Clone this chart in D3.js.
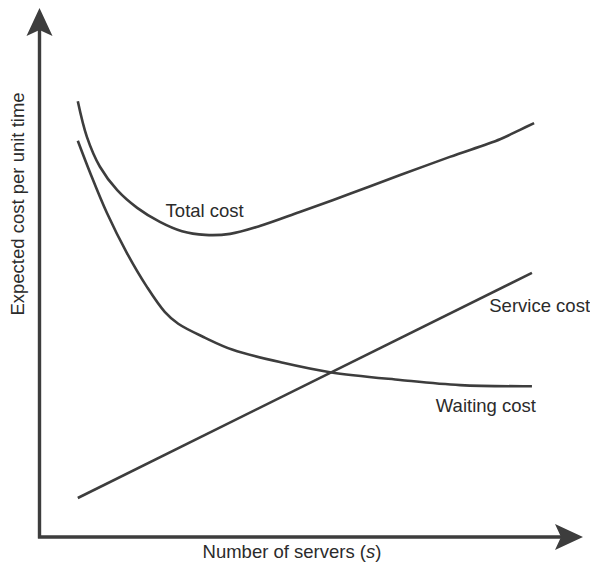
<!DOCTYPE html>
<html>
<head>
<meta charset="utf-8">
<script src="https://cdn.jsdelivr.net/npm/d3@7"></script>
<style>
  body { margin: 0; background: #fff; }
  text { font-family: "Liberation Sans", Arial, sans-serif; fill: #2b2b2b; }
</style>
</head>
<body>
<div id="chart"></div>
<script>
// cost curves (arbitrary units)
var totalX = [0.70, 0.87, 1.11, 1.43, 1.80, 2.22, 2.63, 3.06, 3.52, 4.07, 4.81, 5.74, 6.67, 7.59, 8.52, 8.89, 9.15];
var totalY = [8.38, 7.69, 7.12, 6.67, 6.33, 6.06, 5.88, 5.81, 5.83, 5.98, 6.25, 6.60, 6.96, 7.31, 7.65, 7.83, 7.96];

var waitX = [0.70, 0.93, 1.24, 1.61, 1.98, 2.31, 2.56, 3.06, 3.57, 4.50, 5.37, 6.67, 7.78, 9.11];
var waitY = [7.62, 7.00, 6.23, 5.46, 4.81, 4.33, 4.10, 3.83, 3.60, 3.35, 3.17, 3.02, 2.92, 2.90];

var serviceX = [0.70, 9.11];
var serviceY = [0.75, 5.08];

var svgWidth = 590, svgHeight = 567;
var ink = "#3d3d3d";

// x: number of servers, y: expected cost
var x = d3.scaleLinear().domain([0, 10]).range([40, 580]);
var y = d3.scaleLinear().domain([0, 10]).range([537, 17]);

var svg = d3.select("#chart").append("svg")
    .attr("width", svgWidth)
    .attr("height", svgHeight);

function pairs(xs, ys) {
  return xs.map(function(v, i) { return [v, ys[i]]; });
}

var line = d3.line()
    .x(function(d) { return x(d[0]); })
    .y(function(d) { return y(d[1]); })
    .curve(d3.curveCatmullRom.alpha(0.5));

var series = [pairs(totalX, totalY), pairs(waitX, waitY), pairs(serviceX, serviceY)];

svg.selectAll(".curve")
    .data(series)
  .enter().append("path")
    .attr("class", "curve")
    .attr("d", line)
    .attr("fill", "none")
    .attr("stroke", ink)
    .attr("stroke-width", 2.6);

// axes with arrowheads
var x0 = x(0) - 0.5, y0 = y(0);
var xEnd = 583, yEnd = 8;

svg.append("path")
    .attr("d", "M" + x0 + "," + (y0 + 1.5) + "V" + (yEnd + 20) + "M" + (x0 - 1.5) + "," + y0 + "H" + (xEnd - 20))
    .attr("fill", "none")
    .attr("stroke", ink)
    .attr("stroke-width", 3.4);

// up arrow
svg.append("path")
    .attr("d", "M" + x0 + "," + yEnd + "L" + (x0 + 13) + "," + (yEnd + 28) +
               "L" + x0 + "," + (yEnd + 22) + "L" + (x0 - 13) + "," + (yEnd + 28) + "Z")
    .attr("fill", ink);

// right arrow
svg.append("path")
    .attr("d", "M" + xEnd + "," + y0 + "L" + (xEnd - 28) + "," + (y0 - 13) +
               "L" + (xEnd - 22) + "," + y0 + "L" + (xEnd - 28) + "," + (y0 + 13) + "Z")
    .attr("fill", ink);

// curve labels
var labels = [
  {t: "Total cost", x: 3.05, y: 6.15, a: "middle"},
  {t: "Service cost", x: 8.32, y: 4.33, a: "start"},
  {t: "Waiting cost", x: 7.33, y: 2.41, a: "start"}
];
svg.selectAll(".lbl")
    .data(labels)
  .enter().append("text")
    .attr("class", "lbl")
    .attr("x", function(d) { return x(d.x); })
    .attr("y", function(d) { return y(d.y); })
    .attr("text-anchor", function(d) { return d.a; })
    .style("font-size", "18.5px")
    .text(function(d) { return d.t; });

// axis titles
var xt = svg.append("text")
    .attr("x", 292)
    .attr("y", 558)
    .attr("text-anchor", "middle")
    .style("font-size", "18.5px");
xt.append("tspan").text("Number of servers (");
xt.append("tspan").style("font-style", "italic").text("s");
xt.append("tspan").text(")");

svg.append("text")
    .attr("transform", "translate(24,204) rotate(-90)")
    .attr("text-anchor", "middle")
    .style("font-size", "18.5px")
    .text("Expected cost per unit time");
</script>
</body>
</html>
